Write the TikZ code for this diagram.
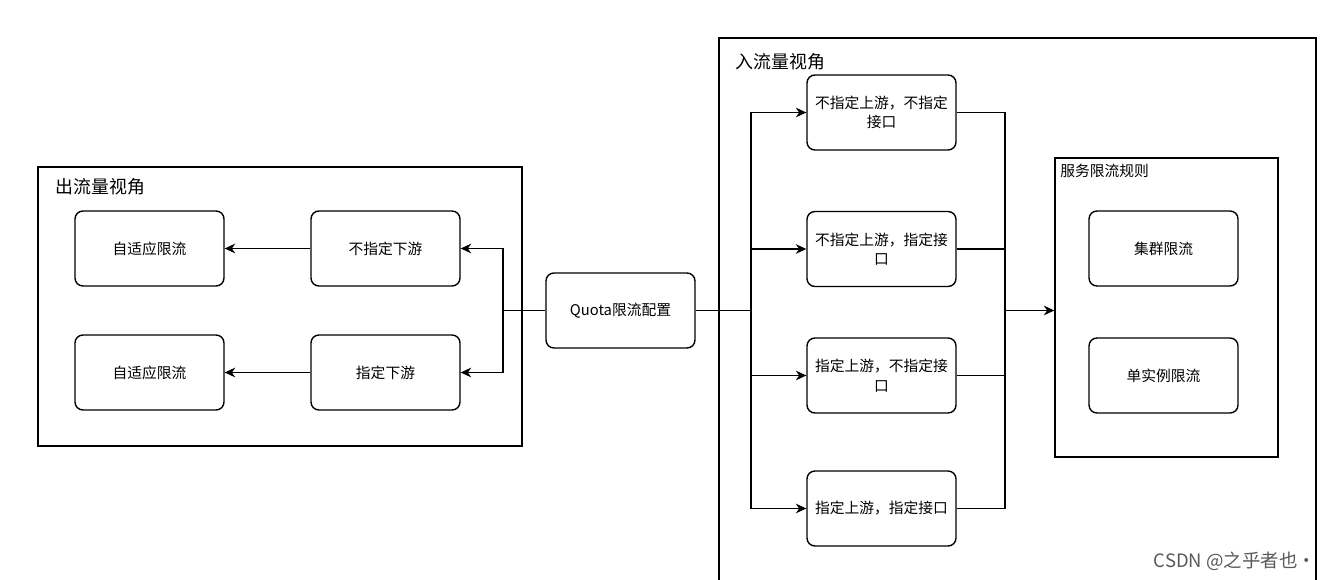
\documentclass[tikz,border=0pt]{standalone}
\usepackage{fontspec}
\setmainfont{Noto Sans CJK SC}
\usetikzlibrary{arrows.meta}

\begin{document}
\begin{tikzpicture}[x=0.02cm, y=-0.02cm,
  every node/.style={font=\fontsize{8.4}{11}\selectfont, inner sep=0pt},
  box/.style={draw, line width=0.8pt, rounded corners=4.5pt, minimum width=2.98cm, minimum height=1.5cm, align=center},
  frame/.style={draw, line width=0.8pt},
  grouptitle/.style={anchor=west, font=\fontsize{10.2}{12}\selectfont},
  link/.style={line width=0.75pt},
  arr/.style={link, -{Stealth[length=6pt,width=5.5pt]}}]
\useasboundingbox (0,0) rectangle (1324,580);
% outflow side
\node[frame, minimum width=9.68cm, minimum height=5.58cm] (outgrp) at (280,306.5) {};
\node[grouptitle] (outtitle) at (55,187) {出流量视角};
\node[box] (adapt1) at (149.5,248.5) {自适应限流};
\node[box] (adapt2) at (149.5,372.5) {自适应限流};
\node[box] (down1) at (385.5,248.5) {不指定下游};
\node[box] (down2) at (385.5,372.5) {指定下游};
% quota config
\node[box] (quota) at (620.5,310.5) {Quota限流配置};
% inflow side
\draw[frame] (719,600) -- (719,38) -- (1316,38) -- (1316,600);
\node[grouptitle] (intitle) at (735,62) {入流量视角};
\node[box] (up1) at (881.5,112.5) {不指定上游，不指定\\接口};
\node[box] (up2) at (881.5,249) {不指定上游，指定接\\口};
\node[box] (up3) at (881.5,375.5) {指定上游，不指定接\\口};
\node[box] (up4) at (881.5,508.5) {指定上游，指定接口};
\node[frame, minimum width=4.46cm, minimum height=5.98cm] (svc) at (1166.5,307.5) {};
\node[anchor=west] (svctitle) at (1060,171) {服务限流规则};
\node[box] (cluster) at (1163.5,248.5) {集群限流};
\node[box] (single) at (1163.5,375.5) {单实例限流};
% connectors
\coordinate (lfork) at (503,310.5);
\coordinate (rfork) at (751,310.5);
\coordinate (join) at (1005,310.5);
\draw[arr] (down1) -- (adapt1);
\draw[arr] (down2) -- (adapt2);
\draw[link] (quota) -- (lfork);
\draw[arr] (lfork) |- (down1);
\draw[arr] (lfork) |- (down2);
\draw[link] (quota) -- (rfork);
\foreach \n in {up1,up2,up3,up4}{
  \draw[arr] (rfork) |- (\n);
  \draw[link] (\n) -| (join);}
\draw[arr] (join) -- (join -| svc.west);
\node[text=black!65, font=\fontsize{10.5}{12}\selectfont] (csdn) at (1235,561) {CSDN @之乎者也·};
\end{tikzpicture}
\end{document}
